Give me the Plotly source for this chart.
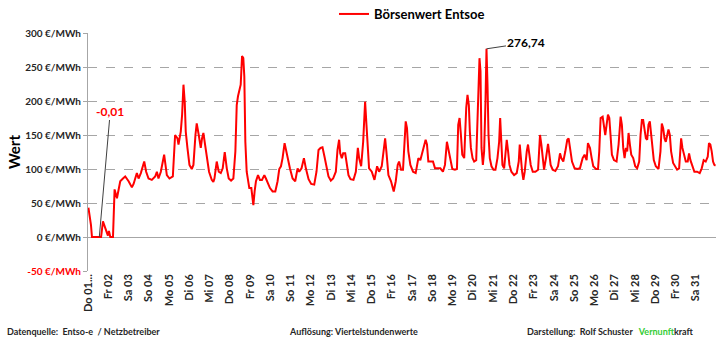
import plotly.graph_objects as go

# Quarter-hour exchange value, sampled at the turning points of the curve
# hours since the start of the month (day 1, 00:00)
hours = [
    0.5, 3.5, 4.7, 13.4, 15.5, 17.7, 20.5, 22.5, 23.6, 24.8, 26.4, 29.6, 31.5, 34.3, 36.2, 38.2,
    41.4, 44.1, 48.1, 52.0, 54.0, 57.9, 59.9, 62.6, 66.6, 68.9, 71.7, 75.6, 79.6, 81.6, 83.5, 86.3,
    90.2, 93.4, 96.5, 100.5, 103.2, 106.0, 107.2, 109.9, 111.5, 113.1, 114.6, 115.8, 117.8, 120.2,
    122.9, 124.9, 127.3, 128.8, 131.2, 133.6, 135.1, 136.7, 138.7, 140.7, 143.4, 146.6, 148.5,
    149.8, 152.5, 154.9, 157.3, 159.6, 162.0, 164.4, 166.7, 169.5, 172.2, 174.6, 176.2, 177.7,
    179.3, 180.9, 182.5, 184.0, 185.2, 186.4, 188.0, 189.6, 191.1, 193.5, 195.9, 197.4, 199.0,
    201.4, 203.7, 206.1, 208.9, 210.8, 213.2, 215.6, 218.7, 221.9, 224.6, 226.6, 228.6, 230.5,
    232.9, 234.5, 236.4, 239.2, 242.4, 245.5, 248.3, 250.2, 253.0, 255.8, 258.1, 261.3, 264.4,
    268.0, 270.7, 273.1, 275.5, 277.8, 280.2, 282.5, 284.9, 287.7, 290.4, 293.6, 295.6, 297.5,
    298.8, 300.7, 302.3, 304.7, 306.7, 308.6, 311.0, 314.5, 317.3, 319.7, 321.2, 323.6, 326.0,
    328.3, 329.9, 331.5, 333.0, 336.2, 339.4, 342.5, 344.9, 348.0, 350.4, 352.0, 353.5, 355.9,
    359.0, 362.2, 364.6, 366.9, 368.5, 370.9, 373.2, 374.8, 376.4, 377.9, 379.5, 381.9, 385.1,
    388.2, 391.4, 393.7, 396.1, 398.5, 400.0, 401.6, 403.2, 405.5, 408.7, 411.1, 414.2, 417.4,
    420.5, 422.9, 425.2, 426.8, 429.2, 431.6, 434.7, 437.1, 438.6, 440.2, 441.8, 443.4, 445.7,
    446.5, 448.1, 449.6, 451.2, 452.4, 453.6, 455.6, 457.5, 459.9, 461.5, 462.6, 463.8, 465.0,
    466.2, 467.8, 469.3, 470.9, 472.1, 473.3, 474.5, 476.0, 478.0, 480.4, 482.7, 485.1, 487.1,
    488.3, 489.4, 491.0, 493.0, 494.6, 496.1, 497.7, 499.3, 501.6, 504.8, 507.9, 510.3, 511.5,
    512.7, 514.3, 515.8, 517.4, 519.8, 521.3, 522.9, 524.5, 526.9, 530.0, 533.2, 535.5, 537.1,
    538.7, 540.3, 542.6, 545.0, 546.6, 548.1, 550.5, 553.7, 556.8, 559.2, 560.7, 563.1, 565.5,
    567.8, 569.4, 571.0, 573.4, 576.5, 579.7, 582.8, 586.0, 588.3, 590.7, 592.3, 593.8, 594.7,
    596.7, 598.6, 601.8, 604.2, 605.7, 607.3, 609.7, 611.3, 612.8, 614.4, 616.0, 617.6, 619.1,
    620.7, 623.1, 626.2, 628.6, 631.0, 632.5, 634.1, 635.7, 637.3, 638.8, 640.4, 642.0, 643.6,
    645.9, 648.3, 650.6, 653.0, 654.6, 656.2, 657.7, 659.3, 660.9, 662.5, 664.0, 665.6, 667.2,
    668.8, 670.3, 672.7, 675.9, 678.2, 679.8, 681.4, 683.0, 684.5, 686.1, 687.7, 689.3, 690.8,
    693.2, 695.6, 697.9, 700.3, 702.7, 704.2, 705.8, 708.2, 710.5, 712.1, 713.7, 716.0, 718.4,
    721.6, 724.7, 727.1, 729.4, 731.8, 734.2, 735.7, 737.3, 738.9, 740.5, 742.0, 743.5,
]

# €/MWh
boersenwert = [
    43, 18, 0, -0.01, 0, 23, 12, 7, 2, 9, 0, 0, 70, 57, 69, 82,
    86, 89, 82, 73, 78, 94, 86, 94, 111, 96, 86, 84, 89, 96, 86, 96,
    121, 91, 86, 89, 150, 145, 136, 155, 180, 224, 199, 155, 131, 106,
    100, 106, 150, 167, 150, 131, 145, 153, 136, 116, 96, 84, 81,
    86, 111, 96, 94, 101, 125, 101, 86, 83, 86, 126, 194, 207,
    214, 224, 266, 263, 236, 140, 96, 86, 72, 72, 47, 67, 82,
    91, 84, 84, 91, 86, 79, 72, 67, 67, 82, 100, 104, 116,
    138, 128, 116, 101, 86, 82, 101, 96, 101, 116, 101, 85, 78,
    77, 96, 128, 131, 132, 118, 101, 89, 83, 86, 96, 128, 143,
    123, 116, 123, 123, 106, 91, 85, 84, 96, 131, 116, 104, 140,
    199, 165, 131, 101, 96, 84, 104, 96, 104, 126, 145, 126, 91,
    82, 67, 82, 106, 111, 99, 99, 145, 170, 160, 126, 106, 96,
    94, 116, 113, 126, 136, 143, 136, 111, 111, 111, 101, 101, 101,
    96, 106, 140, 131, 116, 100, 99, 100, 165, 175, 150, 121, 116,
    150, 190, 209, 194, 155, 131, 116, 111, 113, 175, 214, 263, 244,
    131, 106, 126, 199, 276.74, 224, 150, 116, 104, 99, 99, 116, 140,
    175, 140, 106, 101, 126, 143, 126, 106, 96, 91, 94, 111, 136,
    116, 96, 84, 96, 126, 136, 121, 106, 96, 96, 99, 150, 136,
    111, 99, 116, 137, 121, 106, 99, 97, 104, 123, 116, 111, 126,
    143, 145, 131, 111, 101, 100, 101, 116, 121, 113, 138, 133, 131,
    116, 104, 100, 100, 126, 175, 177, 160, 150, 165, 180, 175, 150,
    121, 113, 111, 136, 177, 165, 131, 116, 131, 126, 153, 136, 121,
    116, 104, 101, 111, 150, 172, 172, 160, 145, 143, 165, 170, 150,
    126, 113, 104, 100, 126, 167, 160, 145, 140, 150, 158, 150, 126,
    109, 104, 99, 101, 145, 131, 123, 111, 111, 123, 113, 104, 96,
    96, 94, 101, 113, 111, 118, 138, 136, 126, 111, 106, 105,
]

day_labels = [
    "Do 01...", "Fr 02", "Sa 03", "So 04", "Mo 05", "Di 06", "Mi 07", "Do 08", "Fr 09", "Sa 10",
    "So 11", "Mo 12", "Di 13", "Mi 14", "Do 15", "Fr 16", "Sa 17", "So 18", "Mo 19", "Di 20",
    "Mi 21", "Do 22", "Fr 23", "Sa 24", "So 25", "Mo 26", "Di 27", "Mi 28", "Do 29", "Fr 30", "Sa 31",
]
day_starts = [24 * i for i in range(len(day_labels))]

y_ticks = [-50, 0, 50, 100, 150, 200, 250, 300]
y_ticktext = [
    f'<span style="color:#FF0000">{v} €/MWh</span>' if v < 0 else f"{v} €/MWh" for v in y_ticks
]

FONT = "Lato"
TXT = "#262626"
W, H = 728, 345
M_L, M_R, M_T, M_B = 88, 12, 33, 74
PW, PH = W - M_L - M_R, H - M_T - M_B


def px_x(px):
    """page pixel x -> paper coordinate"""
    return (px - M_L) / PW


def px_y(py):
    """page pixel y -> paper coordinate"""
    return (H - M_B - py) / PH


def de_num(v):
    return f"{v:.2f}".replace(".", ",")


fig = go.Figure()
fig.add_trace(go.Scatter(
    x=hours, y=boersenwert, mode="lines", name="Börsenwert Entsoe",
    line=dict(color="#FF0000", width=2),
))

i_min = boersenwert.index(min(boersenwert))
i_max = boersenwert.index(max(boersenwert))

footer_font = dict(family=FONT, size=9, color=TXT)
annotations = [
    dict(x=hours[i_min], y=boersenwert[i_min], text=f"<b>{de_num(boersenwert[i_min])}</b>",
         showarrow=True, arrowhead=0, arrowwidth=1, arrowcolor="#404040",
         ax=11, ay=-126, font=dict(family=FONT, size=12, color="#FF0000")),
    dict(x=hours[i_max], y=boersenwert[i_max], text=f"<b>{de_num(boersenwert[i_max])}</b>",
         showarrow=True, arrowhead=0, arrowwidth=1, arrowcolor="#404040",
         ax=40, ay=-6, font=dict(family=FONT, size=12, color="#000000")),
    dict(xref="paper", yref="paper", x=px_x(14), y=0.5, xanchor="center", yanchor="middle",
         text="<b>Wert</b>", textangle=-90,
         showarrow=False, font=dict(family=FONT, size=15, color="#000000")),
    dict(xref="paper", yref="paper", x=px_x(5), y=px_y(331), xanchor="left", yanchor="middle",
         text="<b>Datenquelle:  Entso-e  / Netzbetreiber</b>", showarrow=False, font=footer_font),
    dict(xref="paper", yref="paper", x=px_x(287), y=px_y(331), xanchor="left", yanchor="middle",
         text="<b>Auflösung: Viertelstundenwerte</b>", showarrow=False, font=footer_font),
    dict(xref="paper", yref="paper", x=px_x(525), y=px_y(331), xanchor="left", yanchor="middle",
         text='<b>Darstellung:  Rolf Schuster   <span style="color:#33CC33">Vernunft</span>kraft</b>',
         showarrow=False, font=footer_font),
]

fig.update_layout(
    width=W, height=H,
    margin=dict(l=M_L, r=M_R, t=M_T, b=M_B, pad=0, autoexpand=False),
    paper_bgcolor="white", plot_bgcolor="white",
    font=dict(family=FONT, color=TXT),
    showlegend=True,
    legend=dict(orientation="h", xref="paper", yref="paper",
                x=px_x(334), y=px_y(14), xanchor="left", yanchor="middle",
                font=dict(family=FONT, size=13, color="#000000", weight="bold"),
                bgcolor="rgba(0,0,0,0)"),
    annotations=annotations,
    xaxis=dict(
        range=[0, 744], tickmode="array", tickvals=day_starts, ticktext=day_labels,
        tickangle=-90, showgrid=False, zeroline=False, showline=False,
        ticks="", tickfont=dict(family=FONT, size=11, color=TXT, weight="bold"),
    ),
    yaxis=dict(
        range=[-50, 300], tickmode="array", tickvals=y_ticks, ticktext=y_ticktext,
        showgrid=True, gridcolor="#A6A6A6", griddash="dash", gridwidth=1,
        zeroline=True, zerolinecolor="#A6A6A6", zerolinewidth=1,
        showline=True, linecolor="#A6A6A6", linewidth=1,
        ticks="outside", ticklen=4, tickcolor="#A6A6A6",
        tickfont=dict(family=FONT, size=10, color=TXT, weight="bold"),
    ),
)

fig.write_html("out.html")
